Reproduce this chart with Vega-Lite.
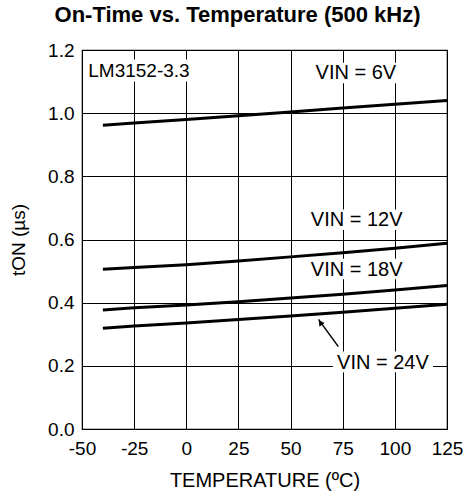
{
  "$schema": "https://vega.github.io/schema/vega-lite/v6.json",
  "autosize": "none",
  "padding": {"left": 82, "top": 50, "right": 17, "bottom": 73},
  "width": 365,
  "height": 379,
  "background": "white",
  "title": {
    "text": "On-Time vs. Temperature (500 kHz)",
    "font": "Liberation Sans",
    "fontSize": 22,
    "fontWeight": "bold",
    "color": "black",
    "anchor": "middle",
    "offset": 14,
    "dx": -27
  },
  "config": {
    "font": "Liberation Sans",
    "view": {"stroke": "black", "strokeWidth": 1.2},
    "axis": {
      "grid": true,
      "gridColor": "black",
      "gridOpacity": 1,
      "gridWidth": 1,
      "domain": false,
      "ticks": false,
      "labelFont": "Liberation Sans",
      "labelFontSize": 19,
      "labelColor": "black",
      "titleFont": "Liberation Sans",
      "titleFontSize": 20,
      "titleFontWeight": "normal",
      "titleColor": "black"
    }
  },
  "datasets": {
    "curves": [
      {"vin": "6V", "temp": -40, "ton": 0.962},
      {"vin": "6V", "temp": -25, "ton": 0.969},
      {"vin": "6V", "temp": 0, "ton": 0.980},
      {"vin": "6V", "temp": 25, "ton": 0.992},
      {"vin": "6V", "temp": 50, "ton": 1.004},
      {"vin": "6V", "temp": 75, "ton": 1.016},
      {"vin": "6V", "temp": 100, "ton": 1.028},
      {"vin": "6V", "temp": 125, "ton": 1.040},
      {"vin": "12V", "temp": -40, "ton": 0.506},
      {"vin": "12V", "temp": -25, "ton": 0.511},
      {"vin": "12V", "temp": 0, "ton": 0.520},
      {"vin": "12V", "temp": 25, "ton": 0.532},
      {"vin": "12V", "temp": 50, "ton": 0.545},
      {"vin": "12V", "temp": 75, "ton": 0.558},
      {"vin": "12V", "temp": 100, "ton": 0.572},
      {"vin": "12V", "temp": 125, "ton": 0.588},
      {"vin": "18V", "temp": -40, "ton": 0.377},
      {"vin": "18V", "temp": -25, "ton": 0.384},
      {"vin": "18V", "temp": 0, "ton": 0.393},
      {"vin": "18V", "temp": 25, "ton": 0.403},
      {"vin": "18V", "temp": 50, "ton": 0.415},
      {"vin": "18V", "temp": 75, "ton": 0.427},
      {"vin": "18V", "temp": 100, "ton": 0.440},
      {"vin": "18V", "temp": 125, "ton": 0.454},
      {"vin": "24V", "temp": -40, "ton": 0.319},
      {"vin": "24V", "temp": -25, "ton": 0.326},
      {"vin": "24V", "temp": 0, "ton": 0.336},
      {"vin": "24V", "temp": 25, "ton": 0.347},
      {"vin": "24V", "temp": 50, "ton": 0.358},
      {"vin": "24V", "temp": 75, "ton": 0.370},
      {"vin": "24V", "temp": 100, "ton": 0.382},
      {"vin": "24V", "temp": 125, "ton": 0.395}
    ],
    "labels": [
      {"label": "LM3152-3.3", "kind": "part", "temp": -22.7, "ton": 1.135, "x1": -47.5, "x2": 1, "y1": 1.1, "y2": 1.17},
      {"label": "VIN = 6V", "kind": "vin", "temp": 81.3, "ton": 1.127, "x1": 60.5, "x2": 102, "y1": 1.095, "y2": 1.16},
      {"label": "VIN = 12V", "kind": "vin", "temp": 81.7, "ton": 0.661, "x1": 58.5, "x2": 104.5, "y1": 0.63, "y2": 0.695},
      {"label": "VIN = 18V", "kind": "vin", "temp": 81.7, "ton": 0.504, "x1": 58.5, "x2": 104.5, "y1": 0.474, "y2": 0.539},
      {"label": "VIN = 24V", "kind": "vin", "temp": 94.3, "ton": 0.21, "x1": 70.3, "x2": 118.3, "y1": 0.18, "y2": 0.245}
    ],
    "arrow": [
      {"temp": 72.9, "ton": 0.261},
      {"temp": 63.4, "ton": 0.347}
    ],
    "arrowhead": [
      {"temp": 64.3, "ton": 0.337}
    ]
  },
  "layer": [
    {
      "data": {"name": "labels"},
      "mark": {"type": "rect", "color": "white"},
      "encoding": {
        "x": {"field": "x1", "type": "quantitative", "scale": {"domain": [-50, 125], "nice": false},
          "axis": {"values": [-50, -25, 0, 25, 50, 75, 100, 125], "labelExpr": "replace(datum.label, '−', '-')", "title": "TEMPERATURE (ºC)", "labelPadding": 10, "titlePadding": 12, "labelFlush": false}},
        "x2": {"field": "x2"},
        "y": {"field": "y1", "type": "quantitative", "scale": {"domain": [0, 1.2], "nice": false},
          "axis": {"values": [0, 0.2, 0.4, 0.6, 0.8, 1.0, 1.2], "format": ".1f", "title": "tON (µs)", "titleFontSize": 19, "labelPadding": 8, "titlePadding": 19, "labelFlush": false}},
        "y2": {"field": "y2"}
      }
    },
    {
      "data": {"name": "curves"},
      "mark": {"type": "line", "color": "black", "strokeWidth": 3},
      "encoding": {
        "x": {"field": "temp", "type": "quantitative"},
        "y": {"field": "ton", "type": "quantitative"},
        "detail": {"field": "vin"}
      }
    },
    {
      "data": {"name": "labels"},
      "transform": [{"filter": "datum.kind == 'vin'"}],
      "mark": {"type": "text", "color": "black", "fontSize": 20, "font": "Liberation Sans", "baseline": "middle", "align": "center"},
      "encoding": {
        "x": {"field": "temp", "type": "quantitative"},
        "y": {"field": "ton", "type": "quantitative"},
        "text": {"field": "label"}
      }
    },
    {
      "data": {"name": "labels"},
      "transform": [{"filter": "datum.kind == 'part'"}],
      "mark": {"type": "text", "color": "black", "fontSize": 19, "font": "Liberation Sans", "baseline": "middle", "align": "center"},
      "encoding": {
        "x": {"field": "temp", "type": "quantitative"},
        "y": {"field": "ton", "type": "quantitative"},
        "text": {"field": "label"}
      }
    },
    {
      "data": {"name": "arrow"},
      "mark": {"type": "line", "color": "black", "strokeWidth": 1.5},
      "encoding": {
        "x": {"field": "temp", "type": "quantitative"},
        "y": {"field": "ton", "type": "quantitative"}
      }
    },
    {
      "data": {"name": "arrowhead"},
      "mark": {"type": "point", "shape": "triangle-up", "filled": true, "color": "black", "size": 40, "angle": 324, "opacity": 1},
      "encoding": {
        "x": {"field": "temp", "type": "quantitative"},
        "y": {"field": "ton", "type": "quantitative"}
      }
    }
  ]
}
